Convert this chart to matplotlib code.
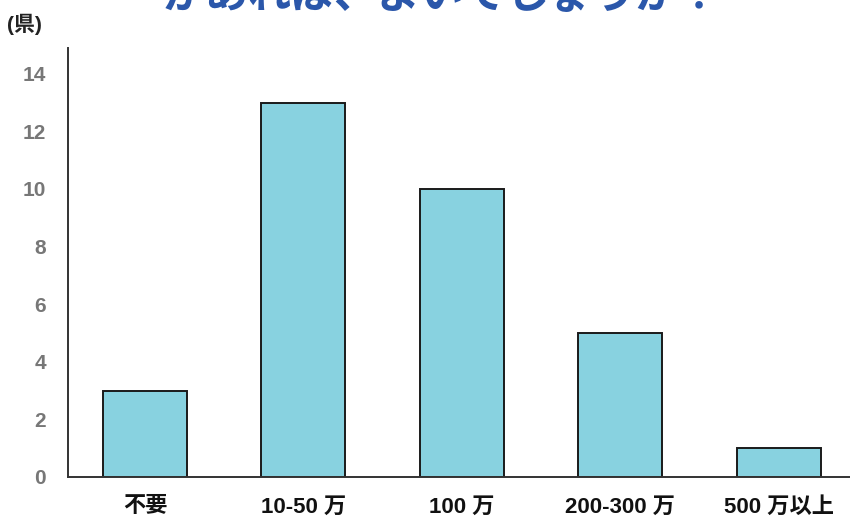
import matplotlib.pyplot as plt
import numpy as np

# Data
categories = ['不要', '10-50 万', '100 万', '200-300 万', '500 万以上']
counts = [3, 13, 10, 5, 1]
yticks = [0, 2, 4, 6, 8, 10, 12, 14]

title = 'があれば、よいでしょうか？'
unit_label = '(県)'

fonts = ['Liberation Sans', 'Noto Sans CJK JP', 'DejaVu Sans']
plt.rcParams['font.family'] = fonts

fig = plt.figure(figsize=(8.5, 5.17), dpi=100)
ax = fig.add_axes([0.08, 0.0774, 0.92, 0.83])

x = np.arange(len(categories))
ax.bar(x, counts, width=0.53, color='#88D2E0', edgecolor='#1a1a1a', linewidth=1.4)

ax.set_xlim(-0.486, 4.45)
ax.set_ylim(0, 14.9)

# Spines: only left and bottom
for side in ['top', 'right']:
    ax.spines[side].set_visible(False)
ax.spines['left'].set_color('#333333')
ax.spines['bottom'].set_color('#333333')
ax.spines['left'].set_linewidth(1.4)
ax.spines['bottom'].set_linewidth(1.4)

ax.set_yticks(yticks)
ax.set_yticklabels([str(v) for v in yticks], fontsize=15, fontweight='bold', color='#777777')
ax.set_xticks(x)
ax.set_xticklabels(categories, fontsize=16, fontweight='bold', color='#111111')
ax.tick_params(axis='both', length=0)
ax.tick_params(axis='y', pad=16)
ax.tick_params(axis='x', pad=14)

# Unit label and clipped title at the top
fig.text(0.008, 0.952, unit_label, fontsize=15, fontweight='bold', color='#222222',
         ha='left', va='center')
fig.text(0.52, 1 - 17 / 517, title, fontsize=31, fontweight='bold', color='#2B57AA',
         ha='center', va='bottom')

fig.savefig('out.png', dpi=100)
